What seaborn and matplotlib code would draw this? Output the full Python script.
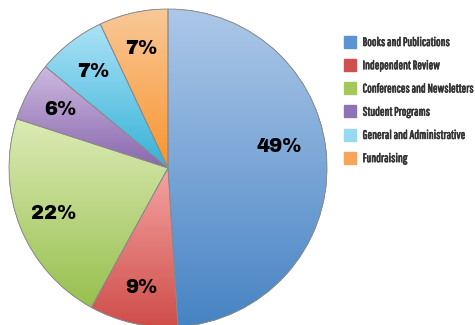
import numpy as np
import matplotlib
matplotlib.use("Agg")
import matplotlib.pyplot as plt
import matplotlib.colors as mcolors
import matplotlib.patheffects as pe
from matplotlib.lines import Line2D
import seaborn as sns

categories = ["Books and Publications", "Independent Review", "Conferences and Newsletters",
              "Student Programs", "General and Administrative", "Fundraising"]
values = [49, 9, 22, 6, 7, 7]
legend_colors = ["#5b93d3", "#d0504f", "#a5c75c", "#8f72b6", "#97d9f1", "#f8a55a"]
top_colors = ["#adc8e8", "#f4a4a2", "#dcebb6", "#cdb9e0", "#ace2f6", "#f9c898"]
bottom_colors = ["#4683c4", "#cf4d49", "#98c04e", "#8867ad", "#35b2d8", "#f8952f"]

sns.set_theme(style="white")
plt.rcParams["font.family"] = ["DejaVu Sans"]

fig = plt.figure(figsize=(4.75, 3.25), dpi=100)
ax = fig.add_axes([9/475, -2/325, 318/475, 318/325])

wedges, texts, autotexts = ax.pie(
    values, colors=legend_colors, startangle=90, counterclock=False,
    autopct=lambda p: f"{p:.0f}%", pctdistance=0.77,
    wedgeprops=dict(edgecolor="#8a8a8a", linewidth=0.6),
    textprops=dict(fontsize=14, fontweight="bold", color="black",
                   family=["Archivo Black", "DejaVu Sans"]))

# vertical gradient per wedge
for w, ct, cb in zip(wedges, top_colors, bottom_colors):
    ext = w.get_path().get_extents()
    cmap = mcolors.LinearSegmentedColormap.from_list("g", [cb, ct])
    grad = np.linspace(0, 1, 256).reshape(-1, 1)
    im = ax.imshow(grad, cmap=cmap, origin="lower", aspect="auto",
                   extent=[ext.x0, ext.x1, ext.y0, ext.y1], zorder=w.get_zorder() + 0.1)
    im.set_clip_path(w)
    edge = matplotlib.patches.PathPatch(w.get_path(), facecolor="none",
                                        edgecolor="#8a8a8a", linewidth=0.6,
                                        zorder=w.get_zorder() + 0.2)
    ax.add_patch(edge)

for t in autotexts:
    t.set_zorder(10)
# nudge big label toward its reference place
autotexts[0].set_position((autotexts[0].get_position()[0] - 0.07,
                           autotexts[0].get_position()[1] + 0.11))

ax.set_xlim(-1, 1)
ax.set_ylim(-1, 1)
ax.set_aspect("equal")
ax.axis("off")

handles = [Line2D([0], [0], marker="s", linestyle="none", markersize=8.3,
                  markerfacecolor=c, markeredgecolor=c) for c in legend_colors]
leg = fig.legend(handles, categories, loc="upper left",
                 bbox_to_anchor=(333/475, 1 - 26/325), frameon=False,
                 handlelength=0.9, handletextpad=0.62, labelspacing=1.0,
                 prop=dict(family=["Pathway Gothic One", "Oswald", "Roboto Condensed",
                                   "Archivo Narrow", "DejaVu Sans"], weight="bold", size=8.8))
for t in leg.get_texts():
    t.set_color("#333333")
    t.set_path_effects([pe.withStroke(linewidth=0.45, foreground="#333333")])

fig.savefig("out.png", dpi=100)
